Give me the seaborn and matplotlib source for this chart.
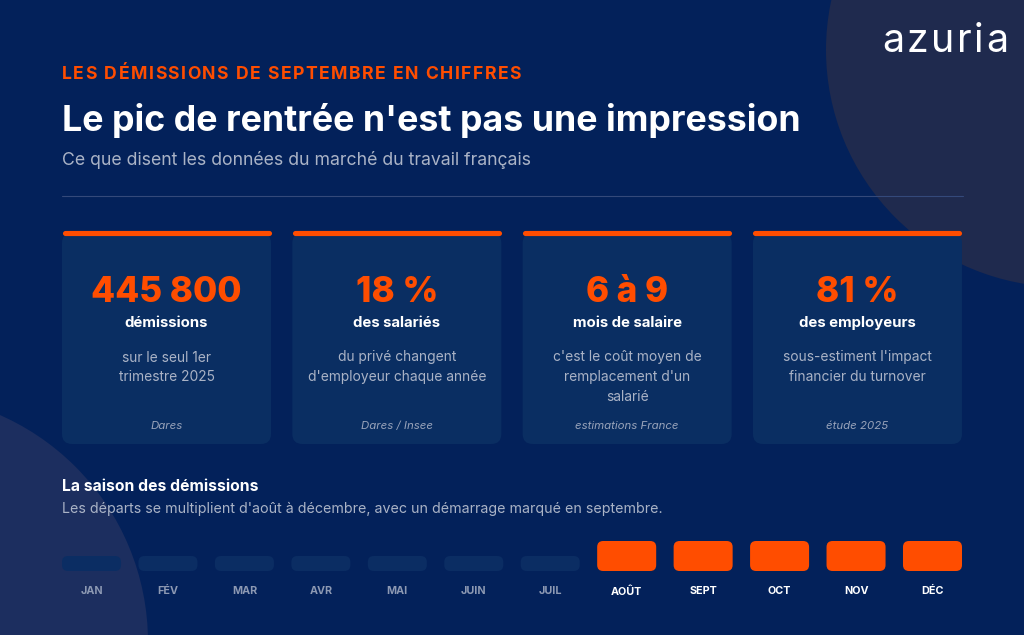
import matplotlib
matplotlib.use("Agg")
import matplotlib.pyplot as plt
import seaborn as sns
import pandas as pd
from matplotlib.patches import FancyBboxPatch, Circle

# ---------------- data ----------------
kicker = "LES DÉMISSIONS DE SEPTEMBRE EN CHIFFRES"
title = "Le pic de rentrée n'est pas une impression"
subtitle = "Ce que disent les données du marché du travail français"
brand = "azuria"
card_values = ["445 800", "18 %", "6 à 9", "81 %"]
card_labels = ["démissions", "des salariés", "mois de salaire", "des employeurs"]
card_descriptions = [
    ["sur le seul 1er", "trimestre 2025"],
    ["du privé changent", "d'employeur chaque année"],
    ["c'est le coût moyen de", "remplacement d'un", "salarié"],
    ["sous-estiment l'impact", "financier du turnover"],
]
card_sources = ["Dares", "Dares / Insee", "estimations France", "étude 2025"]
section_title = "La saison des démissions"
section_subtitle = "Les départs se multiplient d'août à décembre, avec un démarrage marqué en septembre."
months = ["JAN", "FÉV", "MAR", "AVR", "MAI", "JUIN", "JUIL", "AOÛT", "SEPT", "OCT", "NOV", "DÉC"]
intensity = [1, 1, 1, 1, 1, 1, 1, 2, 2, 2, 2, 2]
level = ["calme", "calme", "calme", "calme", "calme", "calme", "calme", "pic", "pic", "pic", "pic", "pic"]

# ---------------- style ----------------
BG = "#03215A"
CIRCLE_TR = "#1f2a4e"
CIRCLE_BL = "#1c2e5f"
CARD = "#0a2e62"
ORANGE = "#FF4D00"
WHITE = "#ffffff"
GRAY = "#aab3c6"
GRAY2 = "#98a3ba"
LOWBAR = "#0b2d63"

sns.set_theme(style="white")
plt.rcParams['font.family'] = ['Inter', 'DejaVu Sans']

W, H = 1024, 635
fig = plt.figure(figsize=(10.24, 6.35), dpi=100)
fig.patch.set_facecolor(BG)
ax = fig.add_axes([0, 0, 1, 1])
ax.set_xlim(0, W)
ax.set_ylim(H, 0)
ax.axis('off')
renderer = fig.canvas.get_renderer()

ax.add_patch(Circle((1063, 50), 237, color=CIRCLE_TR, zorder=0, lw=0))
ax.add_patch(Circle((-100, 642), 248, color=CIRCLE_BL, zorder=0, lw=0))


def fit_size(s, target, base=20, **kw):
    t = ax.text(0, 0, s, fontsize=base, **kw)
    w = t.get_window_extent(renderer).width
    t.remove()
    return base * target / w


def spaced(x, y, s, target, spacing, **kw):
    base = 20
    widths = []
    for ch in s:
        if ch == " ":
            widths.append(None)
            continue
        t = ax.text(0, 0, ch, fontsize=base, **kw)
        widths.append(t.get_window_extent(renderer).width)
        t.remove()
    sp_w = base * 100 / 72 * 0.26
    total = sum(w if w is not None else sp_w for w in widths)
    n = len(s)
    f = base * (target - spacing * (n - 1)) / total
    k = f / base
    cx = x
    for ch, w in zip(s, widths):
        if w is None:
            cx += sp_w * k + spacing
            continue
        ax.text(cx, y, ch, fontsize=f, ha='left', va='baseline', **kw)
        cx += w * k + spacing


# header
spaced(62, 79, kicker, 459, 1.4, color=ORANGE, fontweight='bold')
fs = fit_size(title, 740, fontweight='bold')
ax.text(62, 131, title, fontsize=fs, color=WHITE, fontweight='bold', va='baseline')
fs = fit_size(subtitle, 470)
ax.text(62, 165, subtitle, fontsize=fs, color=GRAY, va='baseline')
spaced(882, 51.5, brand, 126, 2.5, color=WHITE, fontweight='normal')
ax.plot([62, 963], [196, 196], color="#34497a", lw=0.8, zorder=1)

# cards
card_w = 209
pitch = 230.33
fs_num = fit_size(card_values[0], 151, fontweight='heavy')
fs_lab = fit_size(card_labels[0], 84, fontweight='bold')
fs_desc = fit_size(card_descriptions[1][1], 178)
fs_src = fit_size(card_sources[1], 72, fontstyle='italic')
for i in range(4):
    x0 = 62 + i * pitch
    cx = x0 + card_w / 2
    ax.add_patch(FancyBboxPatch((x0, 233), card_w, 211,
                                boxstyle="round,pad=0,rounding_size=10",
                                fc=CARD, ec='none', zorder=2))
    ax.plot([x0 + 2.5, x0 + card_w - 2.5], [232.6, 232.6], color=ORANGE,
            lw=3.7, solid_capstyle='round', zorder=3)
    ax.text(cx, 302, card_values[i], fontsize=fs_num, color=ORANGE,
            fontweight='heavy', ha='center', va='baseline', zorder=4)
    ax.text(cx, 327, card_labels[i], fontsize=fs_lab, color=WHITE,
            fontweight='bold', ha='center', va='baseline', zorder=4)
    for j, line in enumerate(card_descriptions[i]):
        ax.text(cx, 361.5 + j * 19.8, line, fontsize=fs_desc, color=GRAY,
                ha='center', va='baseline', zorder=4)
    ax.text(cx, 429, card_sources[i], fontsize=fs_src, color=GRAY2,
            fontstyle='italic', ha='center', va='baseline', zorder=4)

# section
fs = fit_size(section_title, 196, fontweight='bold')
ax.text(62, 491, section_title, fontsize=fs, color=WHITE, fontweight='bold', va='baseline')
fs = fit_size(section_subtitle, 599)
ax.text(62, 513.5, section_subtitle, fontsize=fs, color=GRAY, va='baseline')

# bars
df = pd.DataFrame({"mois": months, "intensite": intensity, "niveau": level})
bax = fig.add_axes([62 / W, (H - 571) / H, 900 / W, 30 / H])
sns.barplot(data=df, x="mois", y="intensite", hue="niveau",
            palette={"calme": LOWBAR, "pic": ORANGE}, dodge=False,
            width=0.772, legend=False, ax=bax, saturation=1)
bax.set_xlim(-0.386, 11.386)
bax.set_ylim(0, 2)
bax.patch.set_alpha(0)
for s in bax.spines.values():
    s.set_visible(False)
bax.set_yticks([])
bax.set_xlabel("")
bax.set_ylabel("")

px_x = 900 / 11.772
px_y = 30 / 2
asp = (1 / px_y) / (1 / px_x)
r = 6 / px_x
for p in list(bax.patches):
    x, y, w, h = p.get_x(), p.get_y(), p.get_width(), p.get_height()
    fc = p.get_facecolor()
    p.remove()
    bax.add_patch(FancyBboxPatch((x, y), w, h,
                                 boxstyle=f"round,pad=0,rounding_size={r}",
                                 mutation_aspect=asp, fc=fc, ec='none'))

fs_m = fit_size("JAN", 22.6, fontweight='bold')
bax.tick_params(axis='x', length=0, pad=11, labelsize=fs_m)
for lab, lv in zip(bax.get_xticklabels(), level):
    lab.set_fontweight('bold')
    lab.set_color(WHITE if lv == "pic" else "#8d99b3")

fig.savefig("out.png", dpi=100, facecolor=fig.get_facecolor())
